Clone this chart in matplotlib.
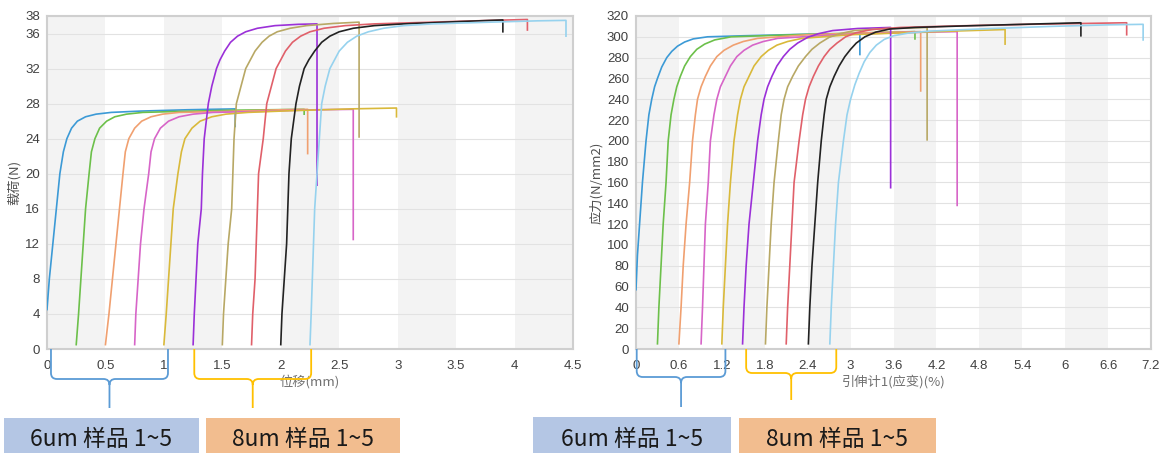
import matplotlib
matplotlib.use('Agg')
import matplotlib.pyplot as plt
from matplotlib.path import Path
from matplotlib.patches import PathPatch, Rectangle
from matplotlib.transforms import IdentityTransform

plt.rcParams['font.family'] = ['Liberation Sans', 'Noto Sans CJK SC', 'DejaVu Sans']
CJK = ['Noto Sans CJK SC', 'DejaVu Sans']

# curve colours (sample 1..5 of 6um, then 1..5 of 8um)
colors = ['#3c9ad6', '#6cc04a', '#f0a070', '#d765c8', '#d9b93a',
          '#9b30d8', '#b8a865', '#e0606a', '#222222', '#96d2ee']

# ---- left chart: load (N) vs displacement (mm), (x, y) points
load_curves = [
    [(0, 4.5), (0.02, 8), (0.05, 12), (0.08, 16), (0.11, 20), (0.14, 22.5), (0.17, 24),
     (0.21, 25.2), (0.26, 26), (0.33, 26.5), (0.42, 26.8), (0.55, 27.0), (0.8, 27.15),
     (1.2, 27.3), (1.61, 27.4), (1.61, 25.4)],
    [(0.25, 0.5), (0.27, 4), (0.29, 8), (0.31, 12), (0.33, 16), (0.36, 20), (0.38, 22.5),
     (0.41, 24), (0.45, 25.2), (0.51, 26), (0.58, 26.5), (0.68, 26.8), (0.82, 27.0),
     (1.1, 27.1), (1.6, 27.25), (2.2, 27.35), (2.2, 26.8)],
    [(0.5, 0.5), (0.53, 4), (0.56, 8), (0.59, 12), (0.62, 16), (0.65, 20), (0.67, 22.5),
     (0.70, 24), (0.75, 25.2), (0.81, 26), (0.89, 26.5), (0.99, 26.8), (1.13, 27.0),
     (1.5, 27.1), (2.0, 27.3), (2.23, 27.35), (2.23, 22.3)],
    [(0.75, 0.5), (0.76, 4), (0.78, 8), (0.80, 12), (0.83, 16), (0.87, 20), (0.89, 22.5),
     (0.92, 24), (0.97, 25.2), (1.04, 26), (1.13, 26.5), (1.25, 26.8), (1.42, 27.0),
     (1.8, 27.1), (2.3, 27.3), (2.62, 27.35), (2.62, 12.5)],
    [(1.0, 0.5), (1.02, 4), (1.04, 8), (1.06, 12), (1.08, 16), (1.12, 20), (1.15, 22.5),
     (1.18, 24), (1.24, 25.2), (1.31, 26), (1.41, 26.5), (1.53, 26.8), (1.72, 27.0),
     (2.1, 27.2), (2.6, 27.4), (2.99, 27.5), (2.99, 26.5)],
    [(1.25, 0.5), (1.26, 4), (1.29, 12), (1.32, 16), (1.33, 20), (1.345, 24), (1.38, 28),
     (1.41, 30), (1.45, 32), (1.48, 33), (1.52, 34), (1.57, 35), (1.63, 35.7), (1.70, 36.2),
     (1.80, 36.6), (1.95, 36.9), (2.15, 37.05), (2.31, 37.1), (2.31, 18.7)],
    [(1.5, 0.5), (1.51, 4), (1.53, 8), (1.55, 12), (1.58, 16), (1.59, 20), (1.60, 24),
     (1.62, 28), (1.66, 30), (1.70, 32), (1.74, 33), (1.78, 34), (1.84, 35), (1.90, 35.7),
     (1.97, 36.2), (2.08, 36.6), (2.22, 36.9), (2.45, 37.15), (2.67, 37.3), (2.67, 24.2)],
    [(1.75, 0.5), (1.76, 4), (1.78, 8), (1.79, 12), (1.80, 16), (1.81, 20), (1.85, 24),
     (1.88, 28), (1.92, 30), (1.96, 32), (2.0, 33), (2.04, 34), (2.1, 35), (2.17, 35.7),
     (2.25, 36.2), (2.37, 36.6), (2.55, 36.9), (2.8, 37.1), (3.3, 37.3), (3.8, 37.5),
     (4.11, 37.6), (4.11, 36.4)],
    [(2.0, 0.5), (2.01, 4), (2.03, 8), (2.05, 12), (2.06, 16), (2.07, 20), (2.09, 24),
     (2.13, 28), (2.16, 30), (2.20, 32), (2.24, 33), (2.29, 34), (2.35, 35), (2.42, 35.7),
     (2.50, 36.2), (2.62, 36.6), (2.80, 36.9), (3.05, 37.1), (3.5, 37.35), (3.9, 37.55),
     (3.9, 36.2)],
    [(2.25, 0.5), (2.26, 4), (2.27, 8), (2.28, 12), (2.29, 16), (2.31, 20), (2.33, 24),
     (2.35, 28), (2.38, 30), (2.42, 32), (2.46, 33), (2.5, 34), (2.57, 35), (2.65, 35.7),
     (2.75, 36.2), (2.88, 36.6), (3.05, 36.9), (3.3, 37.1), (3.8, 37.3), (4.2, 37.45),
     (4.44, 37.5), (4.44, 35.7)],
]

# ---- right chart: stress (N/mm2) vs extensometer strain (%)
stress_curves = [
    [(0, 57), (0.02, 90), (0.05, 120), (0.09, 160), (0.14, 200), (0.18, 225), (0.22, 240),
     (0.26, 252), (0.30, 260), (0.36, 271), (0.43, 280), (0.50, 286), (0.58, 291),
     (0.68, 295), (0.80, 298), (1.0, 300), (1.5, 301), (2.4, 302.5), (3.13, 303), (3.13, 283)],
    [(0.30, 5), (0.32, 40), (0.35, 80), (0.38, 120), (0.42, 160), (0.45, 200), (0.49, 225),
     (0.53, 240), (0.57, 252), (0.62, 262), (0.68, 272), (0.76, 281), (0.85, 288),
     (0.96, 293), (1.1, 297), (1.33, 300), (2.2, 302), (3.3, 304), (3.9, 305), (3.9, 298)],
    [(0.60, 5), (0.63, 40), (0.66, 80), (0.70, 120), (0.75, 160), (0.79, 200), (0.83, 225),
     (0.86, 240), (0.91, 252), (0.97, 262), (1.04, 272), (1.13, 281), (1.23, 287),
     (1.36, 292), (1.5, 295.5), (1.7, 298.5), (2.4, 302), (3.3, 304), (3.98, 305), (3.98, 248)],
    [(0.91, 5), (0.93, 40), (0.95, 80), (0.97, 120), (1.01, 160), (1.04, 200), (1.09, 225),
     (1.13, 240), (1.18, 252), (1.25, 262), (1.32, 272), (1.41, 281), (1.51, 287),
     (1.63, 292), (1.78, 295.5), (1.98, 298.5), (2.8, 302), (3.7, 304), (4.49, 305), (4.49, 138)],
    [(1.20, 5), (1.22, 40), (1.25, 80), (1.28, 120), (1.32, 160), (1.37, 200), (1.42, 225),
     (1.46, 240), (1.51, 252), (1.58, 262), (1.65, 272), (1.75, 281), (1.85, 287),
     (1.97, 292), (2.12, 295.5), (2.32, 298.5), (3.0, 302), (4.2, 305), (5.16, 307), (5.16, 293)],
    [(1.49, 5), (1.51, 40), (1.54, 80), (1.58, 120), (1.64, 160), (1.70, 200), (1.75, 225),
     (1.79, 240), (1.84, 252), (1.90, 262), (1.97, 272), (2.06, 281), (2.15, 288),
     (2.26, 294), (2.40, 299.5), (2.55, 303), (2.75, 306), (3.1, 308), (3.56, 309), (3.56, 155)],
    [(1.81, 5), (1.83, 40), (1.86, 80), (1.89, 120), (1.93, 160), (1.99, 200), (2.03, 225),
     (2.07, 240), (2.12, 252), (2.19, 262), (2.27, 272), (2.37, 281), (2.46, 288),
     (2.57, 294), (2.70, 299.5), (2.85, 303), (3.05, 306), (3.5, 308), (4.07, 309), (4.07, 201)],
    [(2.10, 5), (2.12, 40), (2.15, 80), (2.18, 120), (2.21, 160), (2.28, 200), (2.33, 225),
     (2.37, 240), (2.42, 252), (2.48, 262), (2.55, 272), (2.63, 281), (2.71, 288),
     (2.81, 294), (2.93, 300), (3.08, 304), (3.3, 307), (3.7, 309), (4.5, 310.5),
     (5.5, 312), (6.86, 313.5), (6.86, 302)],
    [(2.41, 5), (2.43, 40), (2.46, 80), (2.50, 120), (2.54, 160), (2.59, 200), (2.63, 225),
     (2.66, 240), (2.71, 252), (2.77, 262), (2.84, 272), (2.92, 281), (3.0, 288),
     (3.08, 294), (3.2, 300), (3.35, 304.5), (3.55, 307.5), (3.9, 309), (4.6, 310.5),
     (5.4, 312), (6.22, 313.5), (6.22, 301)],
    [(2.71, 5), (2.73, 40), (2.76, 80), (2.79, 120), (2.83, 160), (2.90, 200), (2.95, 225),
     (3.0, 240), (3.06, 254), (3.12, 265), (3.19, 276), (3.27, 285), (3.36, 292),
     (3.47, 297.5), (3.6, 301), (3.8, 303.5), (4.1, 305.5), (4.8, 307.5), (5.8, 310),
     (6.6, 311.5), (7.09, 312), (7.09, 297)],
]

left_xticks = [0, 0.5, 1, 1.5, 2, 2.5, 3, 3.5, 4, 4.5]
left_xlabels = ['0', '0.5', '1', '1.5', '2', '2.5', '3', '3.5', '4', '4.5']
left_yticks = [0, 4, 8, 12, 16, 20, 24, 28, 32, 36, 38]
right_xticks = [0, 0.6, 1.2, 1.8, 2.4, 3.0, 3.6, 4.2, 4.8, 5.4, 6.0, 6.6, 7.2]
right_xlabels = ['0', '0.6', '1.2', '1.8', '2.4', '3', '3.6', '4.2', '4.8', '5.4', '6', '6.6', '7.2']
right_yticks = list(range(0, 321, 20))

# bracket spans (data x) under each chart: 6um group, 8um group
left_groups = [(0.034, 1.035), (1.26, 2.26)]
right_groups = [(0.01, 1.25), (1.54, 2.80)]
group_text = ['6um 样品 1~5', '8um 样品 1~5']

W, H = 1167, 453
fig = plt.figure(figsize=(W / 100, H / 100), dpi=100)
ax1 = fig.add_axes([47 / W, 1 - 349 / H, 526 / W, 333 / H])
ax2 = fig.add_axes([636 / W, 1 - 349 / H, 515 / W, 333 / H])


def style(ax, xticks, xlabels, yticks, xlabel, ylabel):
    ax.set_xlim(xticks[0], xticks[-1])
    ax.set_ylim(yticks[0], yticks[-1])
    for i in range(0, len(xticks) - 1, 2):
        ax.axvspan(xticks[i], xticks[i + 1], color='#f3f3f3', lw=0, zorder=0)
    ax.set_xticks(xticks)
    ax.set_xticklabels(xlabels)
    ax.set_yticks(yticks)
    ax.yaxis.grid(True, color='#e2e2e2', lw=0.8)
    ax.set_axisbelow(True)
    ax.tick_params(length=0, labelsize=9.5, labelcolor='#404040')
    ax.tick_params(axis='x', pad=8)
    ax.tick_params(axis='y', pad=5)
    for s in ax.spines.values():
        s.set_color('#cfcfcf')
        s.set_linewidth(1.5)
    ax.set_xlabel(xlabel, family=CJK, fontsize=9.5, color='#707070', labelpad=2)
    ax.set_ylabel(ylabel, family=CJK, fontsize=9.5, color='#505050', labelpad=3)


style(ax1, left_xticks, left_xlabels, left_yticks, '位移(mm)', '载荷(N)')
style(ax2, right_xticks, right_xlabels, right_yticks, '引伸计1(应变)(%)', '应力(N/mm2)')

for i in range(10):
    xs, ys = zip(*load_curves[i])
    ax1.plot(xs, ys, color=colors[i], lw=1.2, zorder=3)
    xs, ys = zip(*stress_curves[i])
    ax2.plot(xs, ys, color=colors[i], lw=1.2, zorder=3)


def brace(ax, x0, x1, bar, tip, color):
    # bar / tip: pixel offsets below the axis bottom
    X0 = ax.transData.transform((x0, 0))[0]
    X1 = ax.transData.transform((x1, 0))[0]
    top = ax.transAxes.transform((0, 0))[1]
    yb, yt = top - bar, top - tip
    xm = (X0 + X1) / 2
    r = 6
    verts, codes = [], []
    for xe, sgn in ((X0, 1), (X1, -1)):
        verts += [(xe, top), (xe, yb + r), (xe, yb), (xe + sgn * r, yb),
                  (xm - sgn * r, yb), (xm, yb), (xm, yb - r)]
        codes += [Path.MOVETO, Path.LINETO, Path.CURVE3, Path.CURVE3,
                  Path.LINETO, Path.CURVE3, Path.CURVE3]
    verts += [(xm, yb - r), (xm, yt)]
    codes += [Path.MOVETO, Path.LINETO]
    fig.patches.append(PathPatch(Path(verts, codes), fill=False, edgecolor=color,
                                 lw=1.3, transform=IdentityTransform()))


brace(ax1, *left_groups[0], 30, 59, '#5b9bd5')
brace(ax1, *left_groups[1], 30, 59, '#ffc000')
brace(ax2, *right_groups[0], 28, 58, '#5b9bd5')
brace(ax2, *right_groups[1], 24, 51, '#ffc000')

# label boxes (pixel boxes: left, top, right)
boxes = [(4, 418, 199, '#b4c6e4'), (206, 418, 400, '#f2bd8f'),
         (533, 417, 731, '#b4c6e4'), (739, 418, 936, '#f2bd8f')]
for k, (l, t, r, c) in enumerate(boxes):
    fig.patches.append(Rectangle((l / W, 0), (r - l) / W, 1 - t / H,
                                 transform=fig.transFigure, color=c, lw=0))
    fig.text((l + r) / 2 / W, 1 - 440 / H, group_text[k % 2], family=CJK,
             fontsize=16.5, color='#1a1a1a', ha='center', va='center')

fig.savefig('out.png', dpi=100)
